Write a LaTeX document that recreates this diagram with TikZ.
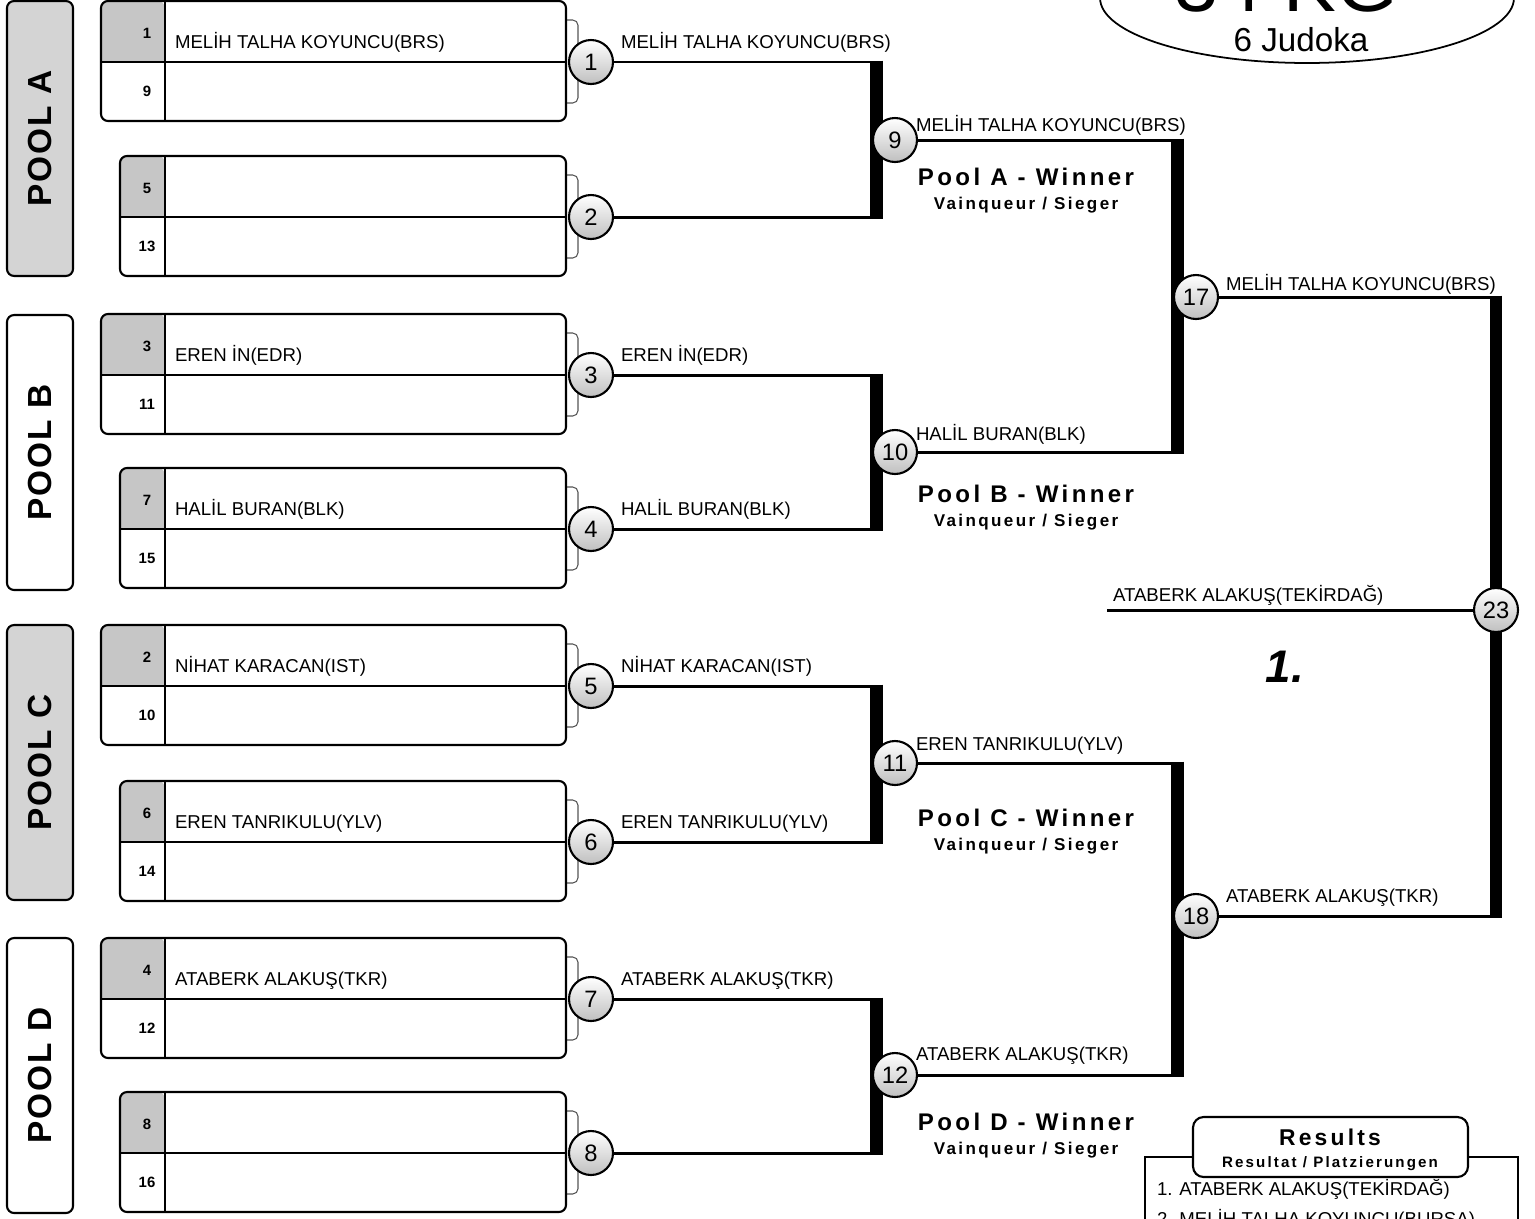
\documentclass[tikz,border=0pt]{standalone}
\usepackage{fontspec}
\setmainfont{Liberation Sans}
\newfontfamily\widefont[LetterSpace=14]{Liberation Sans}
\newfontfamily\poolfont[LetterSpace=6]{Liberation Sans}
\usetikzlibrary{positioning, shapes.geometric, calc, backgrounds}
\definecolor{poolgray}{HTML}{D4D4D4}
\definecolor{seedgray}{HTML}{C6C6C6}
\definecolor{tabgray}{HTML}{555555}

\begin{document}
\begin{tikzpicture}[
  x=0.02cm, y=-0.02cm,
  every node/.style={inner sep=0pt, outer sep=0pt},
  pool/.style={draw, rounded corners=4pt, line width=1.2pt, fill=#1, rotate=90, minimum width=5.5cm, minimum height=1.32cm, font=\poolfont\bfseries\fontsize{19}{19}\selectfont},
  frameline/.style={line width=1.2pt, rounded corners=4pt},
  divline/.style={line width=1.3pt},
  tabline/.style={line width=0.6pt, draw=tabgray, fill=white, rounded corners=3pt},
  seed/.style={font=\bfseries\fontsize{8.5}{8.5}\selectfont},
  player/.style={anchor=base west, font=\fontsize{10.6}{11}\selectfont},
  match/.style={circle, draw, line width=1.2pt, minimum size=0.88cm, shading angle=20, top color=white, middle color=white, bottom color=black!25, font=\fontsize{13.5}{13.5}\selectfont},
  wire/.style={line width=1.7pt},
  bar/.style={line width=7pt, shorten <=-0.85pt, shorten >=-0.85pt},
  winner/.style={font=\widefont\bfseries\fontsize{13.7}{14}\selectfont},
  vainq/.style={font=\widefont\bfseries\fontsize{9.7}{10}\selectfont},
]
\useasboundingbox (0,0) rectangle (1535,1218);

% Title
\node[draw, ellipse, line width=1pt, minimum width=8.28cm, minimum height=2.6cm] (title) at (1307,-2) {};
\node[anchor=base, font=\fontsize{45}{45}\selectfont] (weight) at (1273,11) {-34 KG};
\node[font=\fontsize{18.9}{19}\selectfont] (judoka) at (1301,40) {6 Judoka};

% Pools
\node[pool=poolgray] (poolA) at (40,138.5) {POOL A};
\node[pool=white] (poolB) at (40,452.5) {POOL B};
\node[pool=poolgray] (poolC) at (40,762.5) {POOL C};
\node[pool=white] (poolD) at (40,1075.5) {POOL D};

% First round boxes
\foreach \top/\lx/\sa/\sb/\m/\who in {
  1/101/1/9/1/{MELİH TALHA KOYUNCU(BRS)},
  156/120/5/13/2/{},
  314/101/3/11/3/{EREN İN(EDR)},
  468/120/7/15/4/{HALİL BURAN(BLK)},
  625/101/2/10/5/{NİHAT KARACAN(IST)},
  781/120/6/14/6/{EREN TANRIKULU(YLV)},
  938/101/4/12/7/{ATABERK ALAKUŞ(TKR)},
  1092/120/8/16/8/{}}
{
  \draw[tabline] (566,\top+19) -- (578,\top+19) -- (578,\top+102) -- (566,\top+102);
  \fill[white, rounded corners=4pt] (\lx,\top) rectangle (566,\top+120);
  \fill[seedgray] (\lx,\top+61) [rounded corners=4pt] |- (165,\top) [sharp corners] -- (165,\top+61) -- cycle;
  \draw[frameline] (\lx,\top) rectangle (566,\top+120);
  \draw[divline] (\lx,\top+61) -- (566,\top+61);
  \draw[divline] (165,\top) -- (165,\top+120);
  \node[seed] (s\sa) at (147,\top+32) {\sa};
  \node[seed] (s\sb) at (147,\top+90) {\sb};
  \node[player] (p\m) at (175,\top+47) {\who};
  \node[match] (m\m) at (591,\top+61) {\m};
  \node[player] (q\m) at (621,\top+47) {\who};
}

% Later rounds
\node[match] (m9) at (895,140) {9};
\node[match] (m10) at (895,452) {10};
\node[match] (m11) at (895,763) {11};
\node[match] (m12) at (895,1075) {12};
\node[match] (m17) at (1196,297) {17};
\node[match] (m18) at (1196,916) {18};
\node[match] (m23) at (1496,610) {23};

\node[player] (q9) at (916,131) {MELİH TALHA KOYUNCU(BRS)};
\node[player] (q10) at (916,440) {HALİL BURAN(BLK)};
\node[player] (q11) at (916,750) {EREN TANRIKULU(YLV)};
\node[player] (q12) at (916,1060) {ATABERK ALAKUŞ(TKR)};
\node[player] (q17) at (1226,290) {MELİH TALHA KOYUNCU(BRS)};
\node[player] (q18) at (1226,902) {ATABERK ALAKUŞ(TKR)};
\node[player] (champname) at (1113,601) {ATABERK ALAKUŞ(TEKİRDAĞ)};
\node[font=\bfseries\itshape\fontsize{26}{26}\selectfont] (first) at (1285,667) {1.};

% Pool winners
\node[winner] (winA) at (1026,177) {Pool A - Winner};
\node[vainq, below=0.22cm of winA] (subA) {Vainqueur / Sieger};
\node[winner] (winB) at (1026,494) {Pool B - Winner};
\node[vainq, below=0.22cm of winB] (subB) {Vainqueur / Sieger};
\node[winner] (winC) at (1026,818) {Pool C - Winner};
\node[vainq, below=0.22cm of winC] (subC) {Vainqueur / Sieger};
\node[winner] (winD) at (1026,1122) {Pool D - Winner};
\node[vainq, below=0.22cm of winD] (subD) {Vainqueur / Sieger};

% Results
\draw[line width=1.2pt] (1145,1240) |- (1518,1157) -- (1518,1240);
\node[draw, line width=1.2pt, rounded corners=6pt, fill=white, minimum width=5.5cm, minimum height=1.2cm] (results) at (1330.5,1147) {};
\node[font=\widefont\bfseries\fontsize{13}{13}\selectfont] (restitle) at (1330,1137) {Results};
\node[font=\widefont\bfseries\fontsize{8.6}{8.6}\selectfont, below=0.22cm of restitle] (ressub) {Resultat / Platzierungen};
\node[player] (r1) at (1157,1195) {1. ATABERK ALAKUŞ(TEKİRDAĞ)};
\node[player] (r2) at (1157,1225) {2. MELİH TALHA KOYUNCU(BURSA)};

% Bracket lines
\begin{scope}[on background layer]
\coordinate (j9) at ([xshift=2pt]m9.west);
\coordinate (j10) at ([xshift=2pt]m10.west);
\coordinate (j11) at ([xshift=2pt]m11.west);
\coordinate (j12) at ([xshift=2pt]m12.west);
\coordinate (j17) at ([xshift=2pt]m17.west);
\coordinate (j18) at ([xshift=2pt]m18.west);
\coordinate (champ) at (1107,610);

\draw[wire] (m1.east) -| (j9) |- (m2.east);
\draw[wire] (m3.east) -| (j10) |- (m4.east);
\draw[wire] (m5.east) -| (j11) |- (m6.east);
\draw[wire] (m7.east) -| (j12) |- (m8.east);
\draw[bar] (j9 |- m1.east) -- (j9 |- m2.east);
\draw[bar] (j10 |- m3.east) -- (j10 |- m4.east);
\draw[bar] (j11 |- m5.east) -- (j11 |- m6.east);
\draw[bar] (j12 |- m7.east) -- (j12 |- m8.east);

\draw[wire] (m9.east) -| (j17) |- (m10.east);
\draw[wire] (m11.east) -| (j18) |- (m12.east);
\draw[bar] (j17 |- m9.east) -- (j17 |- m10.east);
\draw[bar] (j18 |- m11.east) -- (j18 |- m12.east);

\draw[wire] (m17.east) -| (m23) |- (m18.east);
\draw[bar] (m23 |- m17.east) -- (m23 |- m18.east);
\draw[wire] (champ) -- (m23.west);
\end{scope}

\end{tikzpicture}
\end{document}
